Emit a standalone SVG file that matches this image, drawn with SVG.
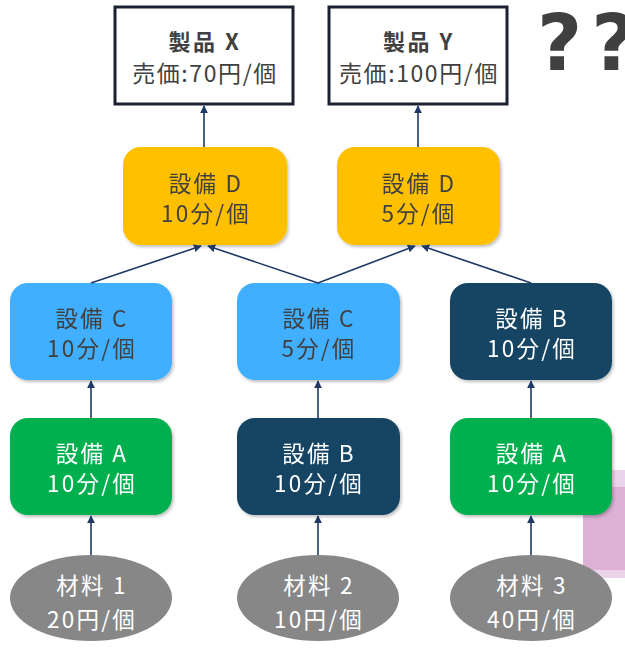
<svg xmlns="http://www.w3.org/2000/svg" width="625" height="649" viewBox="0 0 625 649">
<defs>
<style>
text{font-family:"Meiryo","Noto Sans CJK JP","Noto Sans",sans-serif;text-anchor:middle;font-size:22.5px;letter-spacing:2.2px}
.dk{fill:#404040}
.wh{fill:#ffffff}
.prod{fill:#ffffff;stroke:#1B2130;stroke-width:3}
.or{fill:#FFC000}
.lb{fill:#41AFFF}
.nv{fill:#144464}
.gr{fill:#00B050}
.el{fill:#878787}
.b{font-weight:bold;font-size:22px;letter-spacing:2.5px}
.p{font-size:23px;letter-spacing:1.6px}
.con line{stroke:#1F3864;stroke-width:1.6;marker-end:url(#ah)}
</style>
<marker id="ah" viewBox="0 0 10 10" refX="9" refY="5" markerWidth="5" markerHeight="5" orient="auto" markerUnits="strokeWidth">
<path d="M0,0 L10,5 L0,10 z" fill="#1F3864"/>
</marker>
<filter id="sh" x="-10%" y="-10%" width="125%" height="130%">
<feDropShadow dx="1.5" dy="2" stdDeviation="1.5" flood-color="#000" flood-opacity="0.25"/>
</filter>
</defs>
<rect x="583" y="470" width="42" height="108" fill="#EBD3E9"/>
<rect x="583" y="487" width="42" height="83" fill="#DDB0D6"/>
<text x="537" y="70" style="font-family:'DejaVu Sans',sans-serif;font-weight:bold;font-size:78px;letter-spacing:9px;text-anchor:start" fill="#404040">??</text>
<g id="prodX"><rect class="prod" x="115" y="7" width="178" height="97"/><text class="dk b" x="205" y="50">製品 X</text><text class="dk p" x="205" y="82">売価:70円/個</text></g>
<g id="prodY"><rect class="prod" x="329" y="7" width="178" height="97"/><text class="dk b" x="419" y="50">製品 Y</text><text class="dk p" x="419" y="82">売価:100円/個</text></g>
<g id="d1" filter="url(#sh)"><rect class="or" x="123" y="147" width="164" height="98" rx="18"/><text class="dk" x="206" y="192">設備 D</text><text class="dk" x="206" y="222">10分/個</text></g>
<g id="d2" filter="url(#sh)"><rect class="or" x="337" y="147" width="163" height="98" rx="18"/><text class="dk" x="419" y="192">設備 D</text><text class="dk" x="419" y="222">5分/個</text></g>
<g id="c1" filter="url(#sh)"><rect class="lb" x="10" y="283" width="162" height="97" rx="18"/><text class="dk" x="92" y="327">設備 C</text><text class="dk" x="92" y="357">10分/個</text></g>
<g id="c2" filter="url(#sh)"><rect class="lb" x="237" y="283" width="163" height="97" rx="18"/><text class="dk" x="319" y="327">設備 C</text><text class="dk" x="319" y="357">5分/個</text></g>
<g id="b1" filter="url(#sh)"><rect class="nv" x="450" y="283" width="162" height="97" rx="18"/><text class="wh" x="532" y="327">設備 B</text><text class="wh" x="532" y="357">10分/個</text></g>
<g id="a1" filter="url(#sh)"><rect class="gr" x="10" y="418" width="162" height="97" rx="18"/><text class="wh" x="92" y="462">設備 A</text><text class="wh" x="92" y="492">10分/個</text></g>
<g id="b2" filter="url(#sh)"><rect class="nv" x="237" y="418" width="163" height="97" rx="18"/><text class="wh" x="319" y="462">設備 B</text><text class="wh" x="319" y="492">10分/個</text></g>
<g id="a2" filter="url(#sh)"><rect class="gr" x="450" y="418" width="162" height="97" rx="18"/><text class="wh" x="532" y="462">設備 A</text><text class="wh" x="532" y="492">10分/個</text></g>
<g id="m1"><ellipse class="el" cx="91" cy="598" rx="81" ry="43"/><text class="wh" x="92" y="594">材料 1</text><text class="wh" x="92" y="628">20円/個</text></g>
<g id="m2"><ellipse class="el" cx="318" cy="598" rx="81" ry="43"/><text class="wh" x="319" y="594">材料 2</text><text class="wh" x="319" y="628">10円/個</text></g>
<g id="m3"><ellipse class="el" cx="531" cy="598" rx="81" ry="43"/><text class="wh" x="532" y="594">材料 3</text><text class="wh" x="532" y="628">40円/個</text></g>
<g id="connectors" class="con">
<line x1="204" y1="147" x2="204" y2="106"/>
<line x1="418" y1="147" x2="418" y2="106"/>
<line x1="91" y1="283" x2="201" y2="246"/>
<line x1="318" y1="283" x2="208" y2="246"/>
<line x1="318" y1="283" x2="415" y2="246"/>
<line x1="531" y1="283" x2="422" y2="246"/>
<line x1="91" y1="418" x2="91" y2="381"/>
<line x1="318" y1="418" x2="318" y2="381"/>
<line x1="531" y1="418" x2="531" y2="381"/>
<line x1="91" y1="555" x2="91" y2="516"/>
<line x1="318" y1="555" x2="318" y2="516"/>
<line x1="531" y1="555" x2="531" y2="516"/>
</g>
</svg>
